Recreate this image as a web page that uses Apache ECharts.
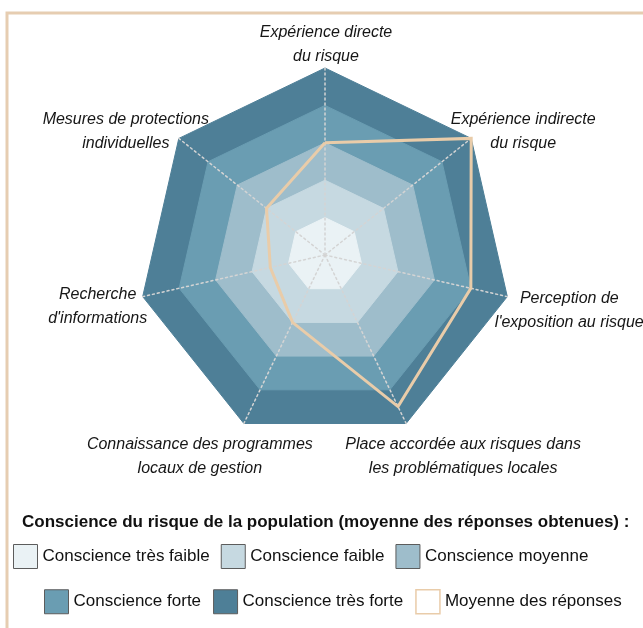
<!DOCTYPE html>
<html>
<head>
<meta charset="utf-8">
<script src="https://cdn.jsdelivr.net/npm/echarts@6/dist/echarts.min.js"></script>
<style>
  html, body { margin: 0; padding: 0; background: #fff; }
  #chart { width: 643px; height: 628px; }
</style>
</head>
<body>
<div id="chart"></div>
<script>
// axes, counter-clockwise from the top (echarts order)
var indicatorNames = [
  "Expérience directe\ndu risque",
  "Mesures de protections\nindividuelles",
  "Recherche\nd'informations",
  "Connaissance des programmes\nlocaux de gestion",
  "Place accordée aux risques dans\nles problématiques locales",
  "Perception de\nl'exposition au risque",
  "Expérience indirecte\ndu risque"
];
var maxValue = 5;
// mean of the answers
var moyenne = [3, 2, 1.5, 2, 4.5, 4, 5];
// awareness levels, outer ring first
var levelNames = [
  "Conscience très forte",
  "Conscience forte",
  "Conscience moyenne",
  "Conscience faible",
  "Conscience très faible"
];
var levelValues = [5, 4, 3, 2, 1];
var levelColors = ["#4e7f97", "#6a9db2", "#9ebdcb", "#c6d9e1", "#eaf2f5"];
var lineName = "Moyenne des réponses";
var lineColor = "#e9cca9";

// label offsets from the vertex (x, y)
var labelShift = [[1, -23], [-53, -7], [-45, 10], [-44, 33], [57, 33], [62, 14], [52, -7]];

var font = "'Liberation Sans', Arial, sans-serif";

// padding moves each token, so both lines get the same padding
var rich = {};
labelShift.forEach(function (s, i) {
  var dx = s[0], dy = s[1];
  rich["l" + i] = {
    fontSize: 16,
    fontStyle: "italic",
    fontFamily: font,
    color: "#161616",
    lineHeight: 24,
    align: "center",
    padding: [Math.max(0, 2 * dy), Math.max(0, -2 * dx), Math.max(0, -2 * dy), Math.max(0, 2 * dx)]
  };
});

var chart = echarts.init(document.getElementById("chart"));

var option = {
  animation: false,
  graphic: [
    {
      type: "rect",
      shape: { x: 7, y: 13, width: 800, height: 800 },
      style: { fill: "none", stroke: "#e6cdb1", lineWidth: 3 },
      silent: true
    }
  ],
  title: {
    text: "Conscience du risque de la population (moyenne des réponses obtenues) :",
    left: 17,
    top: 509,
    textStyle: { fontSize: 17, fontWeight: "bold", color: "#111", fontFamily: font }
  },
  legend: [
    {
      left: 8,
      top: 539,
      itemWidth: 24,
      itemHeight: 24,
      itemGap: 11,
      selectedMode: false,
      textStyle: { fontSize: 17, color: "#111", fontFamily: font },
      data: [4, 3, 2].map(function (i) {
        return {
          name: levelNames[i],
          icon: "rect",
          itemStyle: { color: levelColors[i], borderColor: "#5c5c5c", borderWidth: 1 }
        };
      })
    },
    {
      left: 39,
      top: 584,
      itemWidth: 24,
      itemHeight: 24,
      itemGap: 12,
      selectedMode: false,
      textStyle: { fontSize: 17, color: "#111", fontFamily: font },
      data: [1, 0].map(function (i) {
        return {
          name: levelNames[i],
          icon: "rect",
          itemStyle: { color: levelColors[i], borderColor: "#5c5c5c", borderWidth: 1 }
        };
      }).concat([{
        name: lineName,
        icon: "rect",
        itemStyle: { color: "#fff", borderColor: lineColor, borderWidth: 1.5 }
      }])
    }
  ],
  radar: {
    center: [325, 255],
    radius: 187,
    startAngle: 90,
    shape: "polygon",
    splitNumber: 5,
    z: 5,
    nameGap: 0,
    indicator: indicatorNames.map(function (n) {
      return { name: n, max: maxValue, min: 0 };
    }),
    axisName: {
      align: "center",
      verticalAlign: "middle",
      formatter: function (name) {
        var i = indicatorNames.indexOf(name);
        return name.split("\n").map(function (line) {
          return "{l" + i + "|" + line + "}";
        }).join("\n");
      },
      rich: rich
    },
    axisLine: {
      lineStyle: { color: "#d4d4d4", type: [2, 3], width: 1.5 }
    },
    axisTick: { show: false },
    axisLabel: { show: false },
    splitLine: { show: false },
    splitArea: { show: false }
  },
  series: [
    {
      type: "radar",
      z: 1,
      silent: true,
      symbol: "none",
      data: levelNames.map(function (n, i) {
        return {
          name: n,
          value: indicatorNames.map(function () { return levelValues[i]; }),
          itemStyle: { color: levelColors[i] },
          lineStyle: { color: levelColors[i], width: 1 },
          areaStyle: { color: levelColors[i], opacity: 1 }
        };
      })
    },
    {
      type: "radar",
      z: 10,
      silent: true,
      symbol: "none",
      data: [
        {
          name: lineName,
          value: moyenne,
          itemStyle: { color: lineColor },
          lineStyle: { color: lineColor, width: 3, join: "miter" }
        }
      ]
    }
  ]
};

chart.setOption(option);
</script>
</body>
</html>
